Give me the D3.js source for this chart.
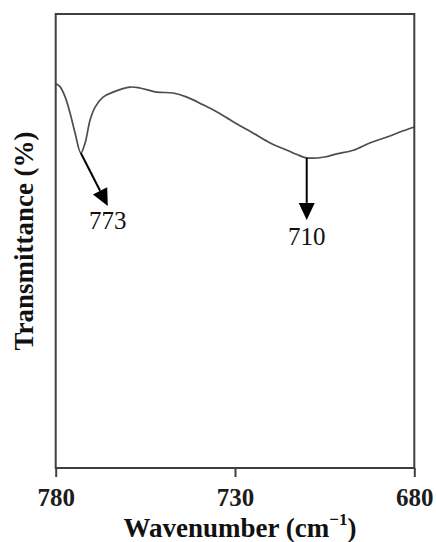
<!DOCTYPE html>
<html>
<head>
<meta charset="utf-8">
<script src="https://cdn.jsdelivr.net/npm/d3@7/dist/d3.min.js"></script>
<style>
  html, body { margin: 0; padding: 0; background: #fff; }
  svg { display: block; }
</style>
</head>
<body>
<svg id="chart" width="436" height="542"></svg>
<script>
// FTIR spectrum, 780–680 cm⁻¹ region
const wavenumbers = [780, 778.8, 777.4, 776, 774.6, 773, 771.8, 770.4, 769, 766.8,
  764, 759.3, 756.5, 751.8, 747.3, 743.4, 738.9, 735, 731.4, 728.6,
  725, 720.2, 715.5, 712, 710, 705, 701.6, 697, 692.4, 687.6, 684, 680];
const transmittance = [84.7, 84.0, 81.8, 78.2, 73.8, 69.4, 71.6, 76.7, 79.5, 81.7,
  82.8, 83.9, 83.7, 82.8, 82.6, 81.7, 80.0, 78.4, 76.7, 75.4,
  73.8, 71.6, 70.0, 68.8, 68.3, 68.5, 69.2, 70.0, 71.6, 72.9, 74.0, 75.1];

const xTicks = [780, 730, 680];
const peakPositions = [773, 710];
const peakLabels = ["773", "710"];

const margin = { left: 55.7, right: 436 - 414.3, top: 14, bottom: 542 - 468 };
const width = 436, height = 542;
const fontFamily = "'Liberation Serif', 'Times New Roman', serif";

const svg = d3.select("#chart");

const x = d3.scaleLinear().domain([780, 680]).range([margin.left, width - margin.right]);
const y = d3.scaleLinear().domain([0, 100]).range([height - margin.bottom, margin.top]);

const data = wavenumbers.map((w, i) => ({ w, t: transmittance[i] }));

// spectrum trace
const line = d3.line()
  .x(d => x(d.w))
  .y(d => y(d.t))
  .curve(d3.curveCatmullRom.alpha(0.5));

svg.append("path")
  .datum(data)
  .attr("d", line)
  .attr("fill", "none")
  .attr("stroke", "#4d4d4d")
  .attr("stroke-width", 1.7)
  .attr("stroke-linejoin", "round");

// frame
svg.append("rect")
  .attr("x", x(780))
  .attr("y", y(100))
  .attr("width", x(680) - x(780))
  .attr("height", y(0) - y(100))
  .attr("fill", "none")
  .attr("stroke", "#3f3f3f")
  .attr("stroke-width", 2);

// bottom axis
const xAxis = d3.axisBottom(x)
  .tickValues(xTicks)
  .tickFormat(d3.format("d"))
  .tickSize(9)
  .tickPadding(4);

const gx = svg.append("g")
  .attr("transform", `translate(0,${y(0)})`)
  .call(xAxis);
gx.select(".domain").remove();
gx.selectAll(".tick line").attr("stroke", "#3f3f3f").attr("stroke-width", 2);
gx.selectAll(".tick text")
  .attr("fill", "#1c1c1c")
  .attr("dy", null)
  .attr("y", 38)
  .style("font-family", fontFamily)
  .style("font-weight", "bold")
  .style("font-size", "25px");

// axis titles
const xTitle = svg.append("text")
  .attr("x", 240)
  .attr("y", 537)
  .attr("text-anchor", "middle")
  .attr("fill", "#111")
  .style("font-family", fontFamily)
  .style("font-weight", "bold")
  .style("font-size", "27px");
xTitle.append("tspan").text("Wavenumber (cm");
xTitle.append("tspan").text("−1").attr("dy", -12).style("font-size", "17px");
xTitle.append("tspan").text(")").attr("dy", 12);

svg.append("text")
  .attr("transform", `translate(33,${(y(0) + y(100)) / 2}) rotate(-90)`)
  .attr("text-anchor", "middle")
  .attr("fill", "#111")
  .style("font-family", fontFamily)
  .style("font-weight", "bold")
  .style("font-size", "27px")
  .text("Transmittance (%)");

// peak annotations: arrow from the band minimum to the label
const interp = w => {
  for (let i = 0; i < wavenumbers.length - 1; i++) {
    const a = wavenumbers[i], b = wavenumbers[i + 1];
    if ((w <= a && w >= b)) {
      const f = (a - w) / (a - b);
      return transmittance[i] + f * (transmittance[i + 1] - transmittance[i]);
    }
  }
  return transmittance[transmittance.length - 1];
};

const arrowOffsets = [[27, 53], [0, 62]];
const labelDrop = [23, 25];
const headLen = 17, headHalf = 8;

peakPositions.forEach((p, i) => {
  const x0 = x(p), y0 = y(interp(p));
  const [dx, dy] = arrowOffsets[i];
  const x1 = x0 + dx, y1 = y0 + dy;
  const len = Math.hypot(dx, dy);
  const ux = dx / len, uy = dy / len;
  const bx = x1 - ux * headLen, by = y1 - uy * headLen;

  svg.append("line")
    .attr("x1", x0).attr("y1", y0)
    .attr("x2", bx).attr("y2", by)
    .attr("stroke", "#000")
    .attr("stroke-width", 2);

  svg.append("path")
    .attr("d", `M${x1},${y1}L${bx - uy * headHalf},${by + ux * headHalf}L${bx + uy * headHalf},${by - ux * headHalf}Z`)
    .attr("fill", "#000");

  svg.append("text")
    .attr("x", x1)
    .attr("y", y1 + labelDrop[i])
    .attr("text-anchor", "middle")
    .attr("fill", "#111")
    .style("font-family", fontFamily)
    .style("font-size", "25px")
    .text(peakLabels[i]);
});
</script>
</body>
</html>
